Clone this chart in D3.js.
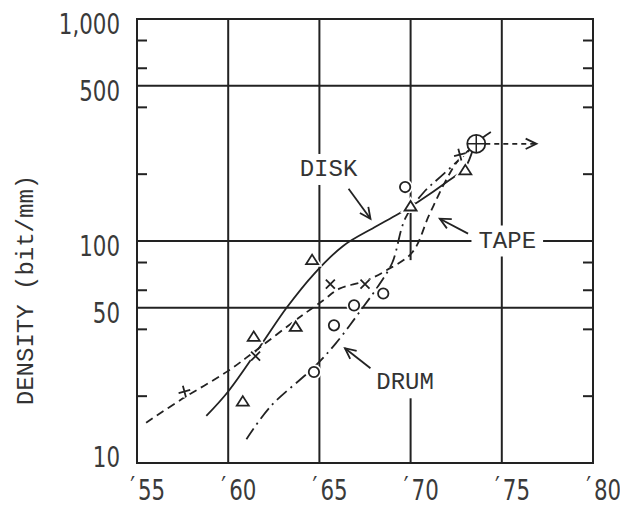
<!DOCTYPE html>
<html>
<head>
<meta charset="utf-8">
<script src="https://cdn.jsdelivr.net/npm/d3@7"></script>
<style>
  body { margin: 0; background: #fff; }
  svg { display: block; }
</style>
</head>
<body>
<div id="chart"></div>
<script>
// ---- axes ----
const xTicks = [55, 60, 65, 70, 75, 80];
const xTickLabels = ["55", "60", "65", "70", "75", "80"];
const xGrid = [60, 65, 70, 75];
const yTicks = [10, 50, 100, 500, 1000];
const yTickLabels = ["10", "50", "100", "500", "1,000"];
const yGrid = [50, 100, 500];
const yMinor = [20, 40, 60, 80, 200, 400, 600, 800];

// ---- trend curves (year, density in bit/mm) ----
const diskYears   = [58.8, 60, 61.8, 63.2, 64.7, 66.3, 68, 69.3, 70.4, 72, 73, 73.6, 74.4];
const diskDensity = [16.3, 21, 34, 50, 71, 95, 115, 132, 150, 185, 215, 274, 310];

const tapeYears   = [55.5, 57.5, 60, 61.7, 63.7, 65.2, 66.1, 67.5, 68.7, 70.1, 71.0, 71.9, 72.6, 73.6];
const tapeDensity = [15.2, 19.5, 26, 33, 44, 54, 61, 66, 74, 89, 130, 185, 230, 274];

const drumYears   = [61, 62.3, 64.7, 65.9, 67.4, 68.3, 69.0, 69.7, 70.7, 71.8, 73.6];
const drumDensity = [12.8, 17.9, 27, 34.6, 50.4, 64, 80, 126, 165, 200, 274];

// ---- plotted points ----
const triYears      = [60.8, 61.4, 63.7, 64.6, 70.0, 73.0];
const triDensity    = [18.9, 37, 41, 82, 143, 208];
const circleYears   = [64.7, 65.8, 66.9, 68.5, 69.7];
const circleDensity = [25.7, 41.7, 51.3, 58, 175];
const crossYears    = [61.5, 65.6, 67.5];
const crossDensity  = [30.3, 64, 64];
const plusYears     = [57.6, 72.7];
const plusDensity   = [21, 245];
const targetYears   = [73.6];
const targetDensity = [274];
const targetArrowTo = [76.9];

// ---- annotations ----
const labelNames       = ["DISK", "TAPE", "DRUM"];
const labelYears       = [65.5, 75.3, 69.7];
const labelDensity     = [210, 100, 23];
const arrowFromYears   = [66.6, 73.15, 67.8];
const arrowFromDensity = [172, 108, 26.7];
const arrowToYears     = [67.8, 71.6, 66.4];
const arrowToDensity   = [126, 126, 32.9];

// blank stretch of the '70 grid line
const gapYears = [70];
const gapFrom  = [19.6];
const gapTo    = [82];

const W = 620, H = 510;
const ink = "#222";
const numFont = "'DejaVu Sans Condensed', 'DejaVu Sans', sans-serif";
const monoFont = "'Liberation Mono', 'DejaVu Sans Mono', monospace";

const svg = d3.select("#chart").append("svg")
    .attr("width", W)
    .attr("height", H);

const x = d3.scaleLinear().domain([55, 80]).range([137, 593]);
const y = d3.scaleLog().domain([10, 1000]).range([463, 19]);

// vertical grid lines
svg.append("g").selectAll("line")
    .data(xGrid)
    .enter().append("line")
    .attr("x1", d => x(d)).attr("x2", d => x(d))
    .attr("y1", y(1000)).attr("y2", y(10))
    .attr("stroke", ink).attr("stroke-width", 2);

// gap in the vertical grid
gapYears.forEach((g, i) => {
    svg.append("rect")
        .attr("x", x(g) - 3).attr("width", 6)
        .attr("y", y(gapTo[i])).attr("height", y(gapFrom[i]) - y(gapTo[i]))
        .attr("fill", "#fff");
});

// horizontal grid lines
svg.append("g").selectAll("line")
    .data(yGrid)
    .enter().append("line")
    .attr("x1", x(55)).attr("x2", x(80))
    .attr("y1", d => y(d)).attr("y2", d => y(d))
    .attr("stroke", ink).attr("stroke-width", 2);

// frame
svg.append("rect")
    .attr("x", x(55)).attr("y", y(1000))
    .attr("width", x(80) - x(55)).attr("height", y(10) - y(1000))
    .attr("fill", "none").attr("stroke", ink).attr("stroke-width", 2);

// minor ticks, inside on both sides
const minor = svg.append("g").attr("stroke", ink).attr("stroke-width", 2);
yMinor.forEach(v => {
    minor.append("line").attr("x1", x(55)).attr("x2", x(55) + 10).attr("y1", y(v)).attr("y2", y(v));
    minor.append("line").attr("x1", x(80)).attr("x2", x(80) - 10).attr("y1", y(v)).attr("y2", y(v));
});

// y tick labels (narrowed)
svg.append("g").selectAll("text")
    .data(yTicks)
    .enter().append("text")
    .attr("transform", d => "translate(120," + (y(d) + (d === yTicks[0] ? -6 : 5)) + ") scale(0.82,1)")
    .attr("text-anchor", "end")
    .attr("dominant-baseline", "central")
    .style("font-family", numFont)
    .style("font-size", "29px")
    .attr("fill", "#3a3a3a")
    .text((d, i) => yTickLabels[i]);

// x tick labels ('55 ...)
const xl = svg.append("g");
xTicks.forEach((v, i) => {
    xl.append("text")
        .attr("transform", "translate(" + (x(v) - 2) + ",497) scale(0.82,1)")
        .attr("text-anchor", "end")
        .style("font-family", numFont).style("font-size", "29px")
        .attr("fill", "#3a3a3a")
        .text("\u2032");
    xl.append("text")
        .attr("transform", "translate(" + (x(v) + 1) + ",500) scale(0.82,1)")
        .style("font-family", numFont).style("font-size", "29px")
        .attr("fill", "#3a3a3a")
        .text(xTickLabels[i]);
});

// y axis title
svg.append("text")
    .attr("transform", "translate(33," + 290 + ") rotate(-90)")
    .attr("text-anchor", "middle")
    .style("font-family", monoFont)
    .style("font-size", "24px")
    .attr("fill", "#333")
    .text("DENSITY (bit/mm)");

// label knock-outs + labels
const labels = svg.append("g");
labelNames.forEach((name, i) => {
    const t = labels.append("text")
        .attr("x", x(labelYears[i])).attr("y", y(labelDensity[i]))
        .attr("text-anchor", "middle")
        .attr("dominant-baseline", "central")
        .style("font-family", monoFont)
        .style("font-size", "24px")
        .attr("fill", "#333")
        .text(name);
    const b = t.node().getBBox();
    labels.insert("rect", function () { return t.node(); })
        .attr("x", b.x - 7).attr("y", b.y - 2)
        .attr("width", b.width + 14).attr("height", b.height + 4)
        .attr("fill", "#fff");
});

// curves
const line = d3.line()
    .x(d => x(d[0]))
    .y(d => y(d[1]))
    .curve(d3.curveCatmullRom.alpha(0.5));

const curves = [
    { yrs: diskYears, val: diskDensity, dash: null },
    { yrs: tapeYears, val: tapeDensity, dash: "8,5" },
    { yrs: drumYears, val: drumDensity, dash: "13,5,2,5" }
];
const curveG = svg.insert("g", function () { return labels.node(); });
curves.forEach(c => {
    curveG.append("path")
        .datum(c.yrs.map((yr, i) => [yr, c.val[i]]))
        .attr("d", line)
        .attr("fill", "none")
        .attr("stroke", ink)
        .attr("stroke-width", 1.8)
        .attr("stroke-dasharray", c.dash);
});

// markers
const marks = svg.append("g");
const triPath = "M0,-5.5L6,4L-6,4Z";
triYears.forEach((yr, i) => {
    marks.append("path")
        .attr("d", triPath)
        .attr("transform", "translate(" + x(yr) + "," + y(triDensity[i]) + ")")
        .attr("fill", "#fff").attr("stroke", ink).attr("stroke-width", 1.8);
});
circleYears.forEach((yr, i) => {
    marks.append("circle")
        .attr("cx", x(yr)).attr("cy", y(circleDensity[i])).attr("r", 5.2)
        .attr("fill", "#fff").attr("stroke", ink).attr("stroke-width", 1.8);
});
crossYears.forEach((yr, i) => {
    marks.append("path")
        .attr("d", "M-4.5,-4.5L4.5,4.5M-4.5,4.5L4.5,-4.5")
        .attr("transform", "translate(" + x(yr) + "," + y(crossDensity[i]) + ")")
        .attr("stroke", ink).attr("stroke-width", 1.8);
});
plusYears.forEach((yr, i) => {
    marks.append("path")
        .attr("d", "M-6,0L6,0M0,-6L0,6")
        .attr("transform", "translate(" + x(yr) + "," + y(plusDensity[i]) + ") rotate(-15)")
        .attr("stroke", ink).attr("stroke-width", 1.8);
});
// white halos under markers so lines break around them
marks.selectAll("path, circle").each(function () {
    const c = d3.select(this).clone(true).lower();
    c.attr("stroke", "#fff").attr("stroke-width", 5);
});

// arrow helper
function arrow(g, x1, y1, x2, y2, dash) {
    g.append("line")
        .attr("x1", x1).attr("y1", y1).attr("x2", x2).attr("y2", y2)
        .attr("stroke", ink).attr("stroke-width", 1.8)
        .attr("stroke-dasharray", dash);
    const a = Math.atan2(y2 - y1, x2 - x1);
    const len = 12, spread = 0.45;
    const p1 = [x2 - len * Math.cos(a - spread), y2 - len * Math.sin(a - spread)];
    const p2 = [x2 - len * Math.cos(a + spread), y2 - len * Math.sin(a + spread)];
    g.append("path")
        .attr("d", "M" + p1 + "L" + x2 + "," + y2 + "L" + p2)
        .attr("fill", "none").attr("stroke", ink).attr("stroke-width", 1.8);
}

const arrows = svg.append("g");
labelNames.forEach((n, i) => {
    arrow(arrows, x(arrowFromYears[i]), y(arrowFromDensity[i]),
        x(arrowToYears[i]), y(arrowToDensity[i]), null);
});

// target point (circle with cross) and dashed arrow to the right
targetYears.forEach((yr, i) => {
    const cx = x(yr), cy = y(targetDensity[i]), r = 9;
    arrow(arrows, cx + r, cy, x(targetArrowTo[i]), cy, "5,4");
    arrows.append("circle").attr("cx", cx).attr("cy", cy).attr("r", r)
        .attr("fill", "#fff").attr("stroke", ink).attr("stroke-width", 1.8);
    arrows.append("path")
        .attr("d", "M" + (cx - r) + "," + cy + "H" + (cx + r) + "M" + cx + "," + (cy - r) + "V" + (cy + r))
        .attr("stroke", ink).attr("stroke-width", 1.5);
});
</script>
</body>
</html>
